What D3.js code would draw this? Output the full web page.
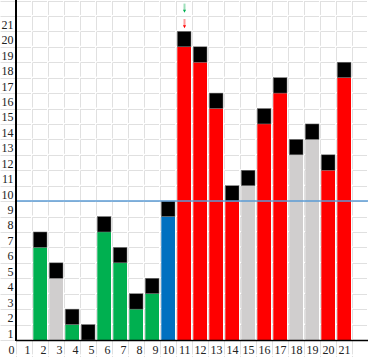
<!DOCTYPE html>
<html><head><meta charset="utf-8">
<script src="https://cdn.jsdelivr.net/npm/d3@7"></script>
<style>
html,body{margin:0;padding:0;background:#fff;}
svg{display:block;}
text{font-family:"Liberation Serif","DejaVu Serif",serif;font-size:12px;fill:#222;}
</style></head>
<body>
<svg id="c" width="368" height="357"></svg>
<script>
// ---- data ----
const categories = d3.range(1, 22);               // 1..21
const values = [0,6,4,1,0,7,5,2,3,8,19,18,15,9,10,14,16,12,13,11,17];
const caps   = [0,1,1,1,1,1,1,1,1,1,1,1,1,1,1,1,1,1,1,1,1];
const groups = ["green","green","grey","green","green","green","green","green","green","blue",
                "red","red","red","red","grey","red","red","grey","grey","red","red"];
const yTickLabels = d3.range(1, 22);              // 1..21 (row labels)
const xTickLabels = d3.range(0, 22);              // 0..21 (bottom row)
const refValue = 9;
const arrowCategory = 11;
const arrows = [{from:21.8,to:21.2,color:"green"},{from:20.8,to:20.2,color:"red"}];

const colorMap = {green:"#00B050", grey:"#D0CECE", blue:"#0070C0", red:"#FF0000"};
const arrowLight = {green:"#9FDFBA", red:"#FF9C9C"};
const arrowDark  = {green:"#00B050", red:"#FF0000"};

const W = 368, H = 357;
const svg = d3.select("#c");

const x = d3.scaleBand().domain(d3.range(23)).range([0, W]);
const y = d3.scaleLinear().domain([0, 22]).range([340, 0.5]);
const rowH = y(0) - y(1);

// grid
const grid = svg.append("g");
const hVals = d3.range(0, 23);
grid.selectAll("line.h").data(hVals).join("line")
  .attr("x1", 0).attr("x2", W)
  .attr("y1", d => Math.round(y(d)) + 0.5).attr("y2", d => Math.round(y(d)) + 0.5)
  .attr("stroke", "#E0E0E0").attr("stroke-width", 1)
  .attr("stroke-dasharray", "14.5,1.5").attr("stroke-dashoffset", -0.5);
grid.selectAll("line.v").data(d3.range(1, 23)).join("line")
  .attr("x1", d => x(d) + 0.5).attr("x2", d => x(d) + 0.5)
  .attr("y1", 0).attr("y2", H)
  .attr("stroke", "#E0E0E0").attr("stroke-width", 1)
  .attr("stroke-dasharray", (rowH - 1.5) + ",1.5").attr("stroke-dashoffset", -1);

// bars
const data = categories.map((c, i) => ({c, v: values[i], cap: caps[i], g: groups[i]}));
const bars = svg.append("g");
bars.selectAll("rect.val").data(data.filter(d => d.v > 0)).join("rect")
  .attr("x", d => x(d.c) + 1.3).attr("width", x.bandwidth() - 2.3)
  .attr("y", d => y(d.v)).attr("height", d => y(0) - y(d.v))
  .attr("fill", d => colorMap[d.g]);
bars.selectAll("rect.cap").data(data.filter(d => d.cap > 0)).join("rect")
  .attr("x", d => x(d.c) + 1.3).attr("width", x.bandwidth() - 2.3)
  .attr("y", d => y(d.v + d.cap)).attr("height", d => y(d.v) - y(d.v + d.cap))
  .attr("fill", "#000").attr("stroke", "#7a7a7a").attr("stroke-width", 0.5);

// reference line
svg.append("line")
  .attr("x1", x(1)).attr("x2", W)
  .attr("y1", y(refValue)).attr("y2", y(refValue))
  .attr("stroke", "#5B9BD5").attr("stroke-width", 1.5);

// axes lines
svg.append("line").attr("x1", x(1)).attr("x2", x(1)).attr("y1", 0).attr("y2", y(0) + 1)
  .attr("stroke", "#000").attr("stroke-width", 2);
svg.append("line").attr("x1", x(1)).attr("x2", W).attr("y1", y(0) + 0.5).attr("y2", y(0) + 0.5)
  .attr("stroke", "#000").attr("stroke-width", 1.6);

// y row labels (right-aligned in the first column)
svg.append("g").selectAll("text").data(yTickLabels).join("text")
  .attr("x", x(0) + x.bandwidth() - 2.5)
  .attr("y", d => y(d - 1) - 2.5)
  .attr("text-anchor", "end")
  .text(d => d);

// x labels in bottom row
svg.append("g").selectAll("text").data(xTickLabels).join("text")
  .attr("x", d => x(d) + x.bandwidth() - 1.5)
  .attr("y", 354.3)
  .attr("text-anchor", "end")
  .text(d => d);

// arrows above bar
const ax = x(arrowCategory) + x.bandwidth() / 2 + 0.5;
const ag = svg.append("g");
arrows.forEach(a => {
  ag.append("line").attr("x1", ax).attr("x2", ax)
    .attr("y1", y(a.from)).attr("y2", y(a.to) - 2)
    .attr("stroke", arrowLight[a.color]).attr("stroke-width", 2);
  ag.append("path")
    .attr("d", `M${ax-1.5},${y(a.to)-3}L${ax+1.5},${y(a.to)-3}L${ax},${y(a.to)}Z`)
    .attr("fill", arrowDark[a.color]);
});
</script>
</body></html>
